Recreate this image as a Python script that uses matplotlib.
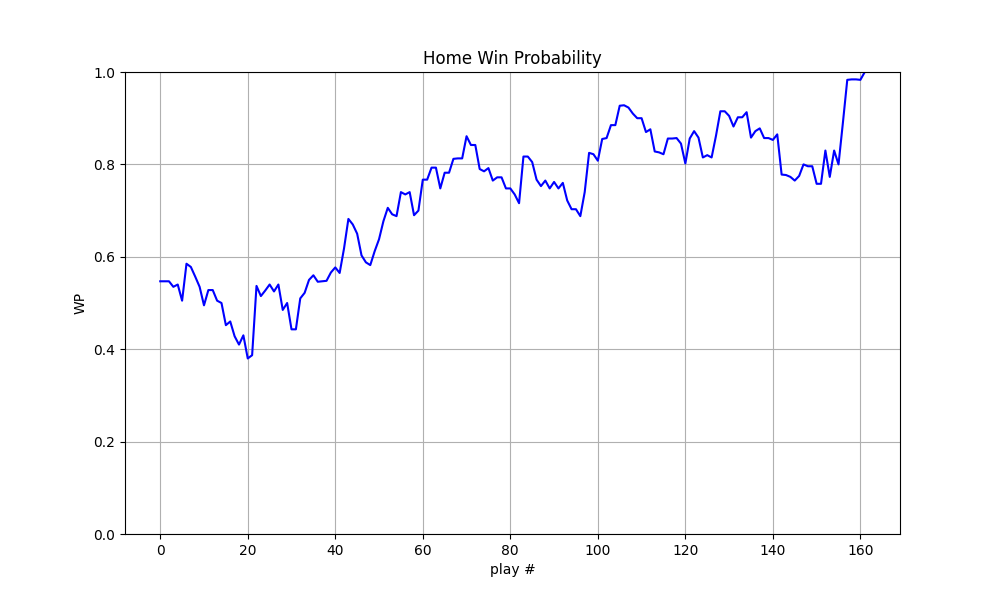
import matplotlib
matplotlib.use('Agg')
import matplotlib.pyplot as plt

# home win probability after each play
wp = [
    0.547, 0.547, 0.547, 0.535, 0.540, 0.505, 0.585, 0.578, 0.557, 0.535,
    0.495, 0.528, 0.528, 0.505, 0.500, 0.452, 0.460, 0.428, 0.410, 0.430,
    0.380, 0.387, 0.537, 0.515, 0.527, 0.540, 0.525, 0.540, 0.485, 0.500,
    0.443, 0.443, 0.510, 0.522, 0.550, 0.560, 0.546, 0.547, 0.548, 0.566,
    0.577, 0.565, 0.618, 0.682, 0.670, 0.650, 0.603, 0.588, 0.582, 0.612,
    0.638, 0.677, 0.706, 0.692, 0.688, 0.740, 0.735, 0.740, 0.690, 0.700,
    0.767, 0.767, 0.793, 0.793, 0.748, 0.782, 0.782, 0.812, 0.813, 0.813,
    0.861, 0.842, 0.842, 0.790, 0.785, 0.792, 0.765, 0.772, 0.772, 0.748,
    0.748, 0.735, 0.716, 0.817, 0.817, 0.805, 0.767, 0.753, 0.765, 0.748,
    0.762, 0.748, 0.760, 0.722, 0.703, 0.703, 0.688, 0.740, 0.825, 0.822,
    0.808, 0.855, 0.857, 0.885, 0.885, 0.927, 0.928, 0.923, 0.910, 0.900,
    0.900, 0.870, 0.876, 0.828, 0.826, 0.822, 0.856, 0.856, 0.857, 0.845,
    0.802, 0.856, 0.872, 0.858, 0.815, 0.820, 0.815, 0.862, 0.915, 0.915,
    0.905, 0.882, 0.902, 0.902, 0.913, 0.858, 0.872, 0.878, 0.857, 0.857,
    0.853, 0.865, 0.778, 0.777, 0.773, 0.765, 0.775, 0.800, 0.796, 0.796,
    0.758, 0.758, 0.830, 0.773, 0.830, 0.800, 0.890, 0.983, 0.984, 0.984,
    0.983, 1.000,
]
plays = list(range(len(wp)))

fig, ax = plt.subplots(figsize=(10, 6), dpi=100)
ax.plot(plays, wp, color='blue')
ax.set_ylim(0, 1)
ax.set_title('Home Win Probability')
ax.set_xlabel('play #')
ax.set_ylabel('WP')
ax.grid(True)
plt.savefig('out.png')
